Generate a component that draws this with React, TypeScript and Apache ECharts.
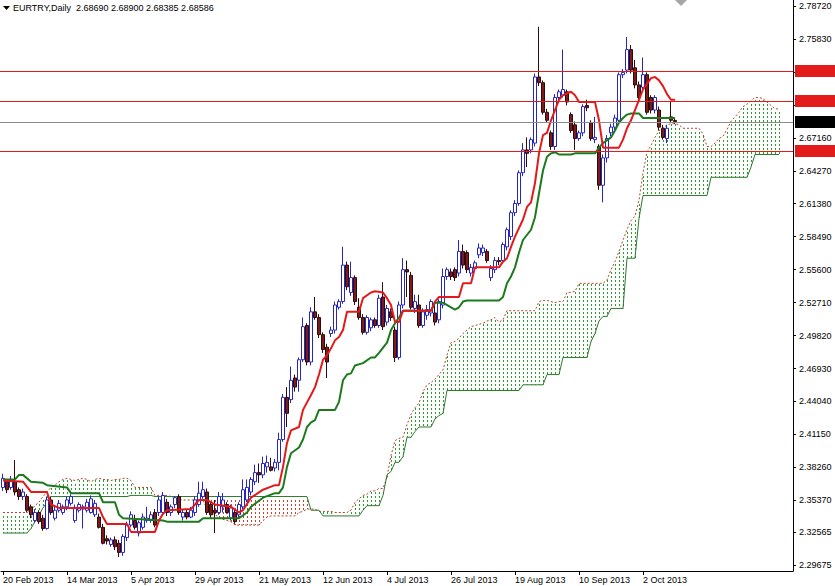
import React, { useEffect, useRef } from "react";
import * as echarts from "echarts";

const FONT = '"Liberation Sans", Arial, sans-serif';

// x-axis date labels, one every 16 trading days starting at bar 0
const dateTicks = ["20 Feb 2013", "14 Mar 2013", "5 Apr 2013", "29 Apr 2013", "21 May 2013", "12 Jun 2013", "4 Jul 2013", "26 Jul 2013", "19 Aug 2013", "10 Sep 2013", "2 Oct 2013"];
const BARS_PER_TICK = 16;
const TOTAL_SLOTS = 198; // bars incl. the 26-bar cloud projection + right margin

// price-scale ticks; the two under the 2.73000 / 2.70350 level boxes carry no visible label
const yTicks = [2.7872, 2.7583, 2.7294, 2.7005, 2.6716, 2.6427, 2.6138, 2.5849, 2.556, 2.5271, 2.4982, 2.4693, 2.4404, 2.4115, 2.3826, 2.3537, 2.32565, 2.29675];
const yLabels = [2.7872, 2.7583, 2.6716, 2.6427, 2.6138, 2.5849, 2.556, 2.5271, 2.4982, 2.4693, 2.4404, 2.4115, 2.3826, 2.3537, 2.32565, 2.29675];

// horizontal support / resistance levels drawn on the chart
const levelLines = [2.73, 2.7035, 2.66];

// [open, close, low, high]
const candles = [
  [2.365, 2.373, 2.362, 2.377], [2.370, 2.363, 2.360, 2.372], [2.365, 2.372, 2.363, 2.375], [2.370, 2.361, 2.358, 2.389],
  [2.363, 2.357, 2.354, 2.365], [2.357, 2.361, 2.354, 2.364], [2.357, 2.345, 2.343, 2.359], [2.348, 2.341, 2.338, 2.350],
  [2.336, 2.343, 2.334, 2.346], [2.343, 2.335, 2.333, 2.345], [2.338, 2.329, 2.327, 2.341], [2.329, 2.354, 2.328, 2.357],
  [2.354, 2.343, 2.341, 2.357], [2.338, 2.345, 2.336, 2.348], [2.345, 2.351, 2.343, 2.354], [2.343, 2.348, 2.341, 2.350],
  [2.348, 2.354, 2.345, 2.357], [2.351, 2.357, 2.349, 2.359], [2.336, 2.347, 2.334, 2.350], [2.345, 2.350, 2.343, 2.352],
  [2.346, 2.348, 2.329, 2.350], [2.345, 2.352, 2.343, 2.355], [2.343, 2.355, 2.342, 2.358], [2.341, 2.351, 2.339, 2.354],
  [2.339, 2.330, 2.329, 2.342], [2.330, 2.316, 2.315, 2.333], [2.320, 2.318, 2.315, 2.323], [2.315, 2.319, 2.313, 2.321],
  [2.319, 2.313, 2.310, 2.322], [2.316, 2.308, 2.304, 2.319], [2.308, 2.322, 2.305, 2.324], [2.321, 2.332, 2.318, 2.335],
  [2.332, 2.341, 2.330, 2.344], [2.336, 2.330, 2.328, 2.341], [2.325, 2.334, 2.322, 2.336], [2.330, 2.339, 2.328, 2.342],
  [2.336, 2.338, 2.334, 2.348], [2.336, 2.341, 2.334, 2.344], [2.343, 2.332, 2.330, 2.346], [2.343, 2.354, 2.340, 2.357],
  [2.343, 2.358, 2.342, 2.361], [2.352, 2.343, 2.340, 2.355], [2.343, 2.348, 2.340, 2.350], [2.350, 2.356, 2.347, 2.357],
  [2.357, 2.343, 2.341, 2.359], [2.339, 2.343, 2.336, 2.346], [2.343, 2.339, 2.337, 2.346], [2.339, 2.345, 2.338, 2.348],
  [2.343, 2.354, 2.340, 2.357], [2.350, 2.360, 2.348, 2.370], [2.357, 2.363, 2.355, 2.370], [2.361, 2.343, 2.341, 2.364],
  [2.350, 2.341, 2.338, 2.352], [2.345, 2.343, 2.325, 2.354], [2.343, 2.357, 2.341, 2.361], [2.348, 2.354, 2.343, 2.360],
  [2.350, 2.343, 2.342, 2.352], [2.338, 2.347, 2.336, 2.350], [2.343, 2.335, 2.333, 2.346], [2.341, 2.350, 2.338, 2.352],
  [2.348, 2.363, 2.346, 2.372], [2.354, 2.365, 2.352, 2.372], [2.361, 2.372, 2.358, 2.374], [2.370, 2.378, 2.367, 2.385],
  [2.378, 2.376, 2.369, 2.386], [2.376, 2.386, 2.373, 2.392], [2.383, 2.387, 2.378, 2.393], [2.383, 2.380, 2.379, 2.391],
  [2.382, 2.387, 2.379, 2.390], [2.387, 2.407, 2.380, 2.413], [2.407, 2.444, 2.405, 2.447], [2.444, 2.430, 2.418, 2.453],
  [2.442, 2.459, 2.439, 2.471], [2.461, 2.453, 2.449, 2.464], [2.459, 2.477, 2.449, 2.479], [2.477, 2.506, 2.475, 2.514],
  [2.507, 2.475, 2.472, 2.509], [2.475, 2.519, 2.472, 2.523], [2.519, 2.514, 2.512, 2.532], [2.514, 2.499, 2.496, 2.517],
  [2.499, 2.486, 2.483, 2.501], [2.488, 2.475, 2.461, 2.491], [2.500, 2.503, 2.497, 2.506], [2.503, 2.525, 2.500, 2.528],
  [2.523, 2.528, 2.521, 2.530], [2.528, 2.560, 2.526, 2.576], [2.560, 2.541, 2.538, 2.563], [2.536, 2.549, 2.533, 2.563],
  [2.549, 2.528, 2.525, 2.551], [2.523, 2.514, 2.512, 2.531], [2.514, 2.501, 2.499, 2.517], [2.501, 2.514, 2.499, 2.516],
  [2.505, 2.512, 2.502, 2.514], [2.512, 2.507, 2.505, 2.514], [2.507, 2.531, 2.505, 2.534], [2.532, 2.506, 2.503, 2.545],
  [2.510, 2.522, 2.507, 2.525], [2.519, 2.514, 2.511, 2.522], [2.503, 2.479, 2.475, 2.506], [2.479, 2.525, 2.477, 2.528],
  [2.525, 2.556, 2.522, 2.566], [2.556, 2.554, 2.532, 2.564], [2.551, 2.523, 2.521, 2.554], [2.522, 2.528, 2.518, 2.534],
  [2.525, 2.507, 2.505, 2.534], [2.507, 2.519, 2.505, 2.522], [2.516, 2.521, 2.512, 2.525], [2.518, 2.528, 2.515, 2.530],
  [2.518, 2.510, 2.507, 2.527], [2.512, 2.528, 2.509, 2.530], [2.525, 2.550, 2.522, 2.557], [2.550, 2.556, 2.547, 2.558],
  [2.554, 2.550, 2.547, 2.557], [2.556, 2.549, 2.546, 2.558], [2.553, 2.572, 2.550, 2.582], [2.572, 2.560, 2.557, 2.578],
  [2.571, 2.556, 2.553, 2.573], [2.553, 2.558, 2.550, 2.561], [2.557, 2.562, 2.555, 2.564], [2.569, 2.575, 2.566, 2.579],
  [2.571, 2.575, 2.568, 2.578], [2.572, 2.564, 2.562, 2.574], [2.549, 2.557, 2.546, 2.560], [2.556, 2.564, 2.553, 2.567],
  [2.564, 2.563, 2.560, 2.567], [2.564, 2.578, 2.562, 2.580], [2.576, 2.591, 2.573, 2.593], [2.585, 2.606, 2.582, 2.608],
  [2.606, 2.614, 2.603, 2.617], [2.614, 2.641, 2.612, 2.643], [2.641, 2.661, 2.638, 2.667], [2.661, 2.658, 2.646, 2.672],
  [2.661, 2.670, 2.658, 2.672], [2.667, 2.725, 2.664, 2.728], [2.725, 2.720, 2.717, 2.769], [2.720, 2.694, 2.692, 2.722],
  [2.694, 2.687, 2.685, 2.697], [2.676, 2.664, 2.661, 2.678], [2.664, 2.707, 2.661, 2.710], [2.707, 2.712, 2.705, 2.714],
  [2.709, 2.714, 2.707, 2.749], [2.712, 2.703, 2.700, 2.714], [2.692, 2.678, 2.676, 2.694], [2.683, 2.671, 2.661, 2.686],
  [2.671, 2.676, 2.669, 2.678], [2.676, 2.699, 2.673, 2.701], [2.700, 2.698, 2.695, 2.705], [2.685, 2.671, 2.669, 2.687],
  [2.670, 2.672, 2.667, 2.690], [2.664, 2.630, 2.626, 2.666], [2.630, 2.654, 2.615, 2.657], [2.654, 2.671, 2.650, 2.674],
  [2.676, 2.681, 2.673, 2.684], [2.681, 2.689, 2.678, 2.692], [2.687, 2.727, 2.685, 2.729], [2.727, 2.729, 2.724, 2.732],
  [2.731, 2.749, 2.728, 2.760], [2.749, 2.731, 2.728, 2.753], [2.733, 2.718, 2.715, 2.740], [2.718, 2.707, 2.704, 2.721],
  [2.716, 2.727, 2.714, 2.742], [2.727, 2.694, 2.692, 2.729], [2.707, 2.696, 2.693, 2.709], [2.696, 2.707, 2.693, 2.709],
  [2.696, 2.681, 2.678, 2.699], [2.680, 2.672, 2.670, 2.683], [2.671, 2.680, 2.667, 2.683], [2.690, 2.687, 2.685, 2.703],
  [2.6869, 2.68586, 2.68385, 2.689],
];

// Tenkan-sen (red) read at its turning points: [bar, price]
const tenkan = [
  [0, 2.371], [5, 2.370], [7, 2.361], [11, 2.361], [12, 2.350], [14, 2.347], [24, 2.347], [25, 2.339], [26, 2.333], [31, 2.333],
  [32, 2.326], [38, 2.326], [39, 2.336], [40, 2.342], [41, 2.345], [47, 2.346], [48, 2.350], [49, 2.354], [51, 2.354], [53, 2.350],
  [57, 2.348], [59, 2.343], [60, 2.345], [62, 2.356], [65, 2.363], [68, 2.367], [69, 2.367], [70, 2.383], [71, 2.404], [72, 2.415],
  [74, 2.418], [75, 2.433], [77, 2.446], [78, 2.453], [79, 2.464], [80, 2.477], [81, 2.481], [82, 2.487], [83, 2.494], [84, 2.497],
  [85, 2.503], [86, 2.519], [89, 2.519], [90, 2.531], [92, 2.536], [93, 2.537], [95, 2.536], [96, 2.531], [97, 2.525], [98, 2.510],
  [99, 2.510], [100, 2.520], [107, 2.520], [108, 2.528], [109, 2.532], [114, 2.532], [115, 2.544], [117, 2.544], [118, 2.558], [124, 2.558],
  [125, 2.563], [126, 2.566], [127, 2.576], [128, 2.585], [130, 2.600], [131, 2.611], [132, 2.615], [133, 2.632], [134, 2.658], [135, 2.674],
  [136, 2.676], [137, 2.687], [138, 2.696], [139, 2.705], [140, 2.709], [142, 2.712], [143, 2.709], [144, 2.703], [148, 2.703], [149, 2.687],
  [150, 2.663], [154, 2.663], [155, 2.670], [156, 2.680], [157, 2.687], [158, 2.696], [159, 2.705], [160, 2.714], [161, 2.719], [162, 2.724],
  [163, 2.725], [164, 2.722], [165, 2.717], [166, 2.710], [167, 2.705], [168, 2.705],
];

// Kijun-sen (green) read at its turning points: [bar, price]
const kijun = [
  [0, 2.372], [3, 2.372], [4, 2.376], [5, 2.376], [7, 2.370], [10, 2.369], [11, 2.367], [16, 2.365], [17, 2.360], [24, 2.360],
  [25, 2.352], [28, 2.352], [29, 2.341], [30, 2.338], [40, 2.336], [41, 2.335], [49, 2.335], [50, 2.338], [59, 2.338], [61, 2.343],
  [62, 2.348], [65, 2.356], [68, 2.360], [69, 2.360], [70, 2.365], [71, 2.383], [72, 2.395], [74, 2.400], [75, 2.407], [76, 2.418],
  [77, 2.422], [78, 2.424], [79, 2.433], [83, 2.433], [84, 2.440], [85, 2.459], [86, 2.464], [87, 2.465], [88, 2.472], [90, 2.474],
  [92, 2.479], [93, 2.479], [94, 2.483], [96, 2.492], [97, 2.503], [98, 2.509], [99, 2.514], [100, 2.520], [107, 2.520], [108, 2.527],
  [110, 2.527], [112, 2.523], [113, 2.521], [114, 2.523], [115, 2.528], [116, 2.529], [124, 2.529], [125, 2.532], [126, 2.544], [127, 2.550],
  [128, 2.558], [129, 2.571], [130, 2.582], [132, 2.591], [133, 2.602], [134, 2.623], [135, 2.643], [136, 2.655], [137, 2.658], [138, 2.659],
  [139, 2.657], [142, 2.657], [143, 2.658], [148, 2.658], [149, 2.663], [150, 2.667], [152, 2.672], [153, 2.678], [154, 2.685], [155, 2.689],
  [156, 2.692], [157, 2.693], [159, 2.693], [160, 2.689], [168, 2.689],
];

// Senkou span A, one value per bar (bars 0..194, incl. 26 projected bars)
const spanA = [
  2.343, 2.343, 2.343, 2.343, 2.343, 2.343, 2.343, 2.345, 2.349, 2.352,
  2.357, 2.361, 2.365, 2.367, 2.370, 2.372, 2.373, 2.372, 2.371, 2.372,
  2.373, 2.372, 2.370, 2.372, 2.373, 2.372, 2.372, 2.371, 2.372, 2.372,
  2.373, 2.373, 2.371, 2.365, 2.365, 2.365, 2.365, 2.365, 2.358, 2.358,
  2.358, 2.358, 2.357, 2.354, 2.354, 2.354, 2.354, 2.354, 2.354, 2.354,
  2.354, 2.346, 2.343, 2.341, 2.339, 2.337, 2.336, 2.335, 2.332, 2.332,
  2.332, 2.332, 2.332, 2.332, 2.332, 2.336, 2.339, 2.340, 2.340, 2.340,
  2.340, 2.340, 2.340, 2.340, 2.343, 2.344, 2.346, 2.346, 2.346, 2.344,
  2.344, 2.344, 2.344, 2.343, 2.343, 2.343, 2.343, 2.345, 2.352, 2.355,
  2.358, 2.359, 2.362, 2.362, 2.364, 2.364, 2.374, 2.393, 2.406, 2.408,
  2.409, 2.420, 2.429, 2.435, 2.439, 2.449, 2.455, 2.457, 2.460, 2.464,
  2.468, 2.481, 2.492, 2.493, 2.496, 2.500, 2.503, 2.506, 2.507, 2.508,
  2.509, 2.511, 2.512, 2.514, 2.510, 2.512, 2.520, 2.520, 2.520, 2.520,
  2.520, 2.520, 2.520, 2.520, 2.528, 2.529, 2.529, 2.528, 2.527, 2.528,
  2.528, 2.536, 2.536, 2.537, 2.544, 2.544, 2.544, 2.544, 2.544, 2.544,
  2.544, 2.547, 2.556, 2.563, 2.572, 2.582, 2.591, 2.599, 2.603, 2.617,
  2.641, 2.659, 2.665, 2.672, 2.678, 2.680, 2.683, 2.684, 2.684, 2.683,
  2.680, 2.680, 2.680, 2.680, 2.680, 2.675, 2.664, 2.664, 2.667, 2.671,
  2.673, 2.679, 2.686, 2.690, 2.694, 2.699, 2.701, 2.704, 2.707, 2.707,
  2.706, 2.703, 2.700, 2.697, 2.697,
];

// Senkou span B, one value per bar (bars 0..194)
const spanB = [
  2.325, 2.325, 2.325, 2.325, 2.325, 2.325, 2.325, 2.329, 2.335, 2.341,
  2.347, 2.352, 2.357, 2.357, 2.357, 2.357, 2.357, 2.357, 2.357, 2.357,
  2.357, 2.357, 2.357, 2.357, 2.357, 2.357, 2.357, 2.357, 2.357, 2.357,
  2.357, 2.357, 2.358, 2.358, 2.358, 2.358, 2.358, 2.358, 2.357, 2.357,
  2.357, 2.357, 2.357, 2.357, 2.357, 2.357, 2.357, 2.357, 2.357, 2.357,
  2.357, 2.357, 2.357, 2.357, 2.357, 2.357, 2.357, 2.357, 2.357, 2.357,
  2.357, 2.357, 2.357, 2.357, 2.357, 2.357, 2.357, 2.357, 2.357, 2.357,
  2.357, 2.357, 2.357, 2.357, 2.357, 2.357, 2.357, 2.345, 2.345, 2.345,
  2.340, 2.340, 2.340, 2.340, 2.340, 2.340, 2.340, 2.340, 2.340, 2.340,
  2.345, 2.349, 2.349, 2.349, 2.349, 2.358, 2.376, 2.379, 2.387, 2.387,
  2.392, 2.409, 2.409, 2.414, 2.418, 2.418, 2.418, 2.418, 2.425, 2.428,
  2.430, 2.450, 2.450, 2.450, 2.450, 2.450, 2.450, 2.450, 2.450, 2.450,
  2.450, 2.450, 2.450, 2.450, 2.450, 2.450, 2.450, 2.450, 2.450, 2.450,
  2.455, 2.455, 2.455, 2.455, 2.455, 2.455, 2.464, 2.464, 2.464, 2.464,
  2.479, 2.479, 2.479, 2.479, 2.479, 2.479, 2.479, 2.493, 2.500, 2.511,
  2.515, 2.515, 2.522, 2.522, 2.522, 2.522, 2.566, 2.566, 2.566, 2.601,
  2.621, 2.621, 2.621, 2.621, 2.621, 2.621, 2.621, 2.621, 2.621, 2.621,
  2.621, 2.621, 2.621, 2.621, 2.621, 2.621, 2.621, 2.637, 2.637, 2.637,
  2.637, 2.637, 2.637, 2.637, 2.637, 2.637, 2.637, 2.646, 2.657, 2.657,
  2.657, 2.657, 2.657, 2.657, 2.657,
];

const COLORS = {
  up: "#2626c4",
  downFill: "#7a1c1c",
  downBorder: "#2e0a0a",
  tenkan: "#e21a1a",
  kijun: "#1c7a1c",
  kumoUp: "#2a9e2a",
  kumoDown: "#c8402a",
  spanA: "#b4442e",
  spanB: "#2b7a2b",
  level: "#e31b1b",
  price: "#8c8c8c",
};

const GRID = { left: -1, right: 42, top: 0, bottom: 15 };
const CHART_W = 835;

// Kumo drawn as MT4 does: a dotted vertical histogram between span A and span B at every bar
function kumoSeries(name: string, color: string, rising: boolean) {
  return {
    name,
    type: "custom",
    silent: true,
    clip: true,
    z: 1,
    itemStyle: { color },
    data: spanA.map((a, i) => [i, a, spanB[i]]).filter((d) => (rising ? d[1] >= d[2] : d[1] < d[2])),
    encode: { x: 0, y: [1, 2] },
    renderItem: (_params: any, api: any) => {
      const i = api.value(0);
      const pa = api.coord([i, api.value(1)]);
      const pb = api.coord([i, api.value(2)]);
      const x = Math.round(pa[0]);
      const top = Math.min(pa[1], pb[1]);
      const bottom = Math.max(pa[1], pb[1]);
      const children: any[] = [];
      for (let y = Math.ceil(top / 4) * 4; y < bottom; y += 4) {
        children.push({
          type: "rect",
          shape: { x, y, width: 1, height: Math.min(2, bottom - y) },
          style: { fill: color },
        });
      }
      return { type: "group", children };
    },
  };
}

export default function App() {
  const ref = useRef<HTMLDivElement>(null);

  useEffect(() => {
    if (!ref.current) return;
    const chart = echarts.init(ref.current, null, { renderer: "svg" });

    const last = candles[candles.length - 1];
    const header = [last[0], last[3], last[2], last[1]];
    const lastClose = last[1];
    const categories = Array.from({ length: TOTAL_SLOTS }, (_, i) => String(i));
    const showTick = (i: number) => i % BARS_PER_TICK === 0 && i / BARS_PER_TICK < dateTicks.length;

    const baseGraphic: any[] = [
      { type: "polygon", shape: { points: [[3, 6], [10, 6], [6.5, 10]] }, style: { fill: "#000" }, silent: true },
      { type: "polygon", shape: { points: [[675, 0], [687, 0], [681, 6]] }, style: { fill: "#a6a6a6" }, silent: true },
    ];

    const option: any = {
      animation: false,
      backgroundColor: "#ffffff",
      title: {
        text: "EURTRY,Daily  " + header.map((v) => v.toFixed(5)).join(" "),
        left: 13,
        top: 3,
        padding: 0,
        textStyle: { fontSize: 9, fontWeight: "normal", fontFamily: FONT, color: "#000" },
      },
      graphic: baseGraphic,
      grid: { ...GRID, containLabel: false },
      xAxis: {
        type: "category",
        data: categories,
        boundaryGap: true,
        axisLine: { show: true, lineStyle: { color: "#000", width: 1 } },
        axisTick: { show: true, alignWithLabel: true, interval: (i: number) => showTick(i), length: 4, lineStyle: { color: "#000" } },
        axisLabel: {
          interval: (i: number) => showTick(i),
          formatter: (_v: string, i: number) => (showTick(i) ? dateTicks[i / BARS_PER_TICK] : ""),
          align: "left",
          margin: 4,
          fontSize: 9,
          fontFamily: FONT,
          color: "#000",
        },
        splitLine: { show: false },
      },
      yAxis: {
        type: "value",
        position: "right",
        min: 2.2917,
        max: 2.7925,
        axisLine: { show: true, lineStyle: { color: "#000", width: 1 } },
        axisTick: { show: true, length: 3, customValues: yTicks, lineStyle: { color: "#000" } },
        axisLabel: {
          customValues: yLabels,
          formatter: (v: number) => v.toFixed(5),
          margin: 6,
          fontSize: 9,
          fontFamily: FONT,
          color: "#000",
        },
        splitLine: { show: false },
      },
      series: [
        kumoSeries("Up Kumo", COLORS.kumoUp, true),
        kumoSeries("Down Kumo", COLORS.kumoDown, false),
        {
          name: "Senkou Span A",
          type: "line",
          data: spanA,
          symbol: "none",
          silent: true,
          z: 2,
          lineStyle: { color: COLORS.spanA, width: 1, type: [2, 2] },
        },
        {
          name: "Senkou Span B",
          type: "line",
          data: spanB,
          symbol: "none",
          silent: true,
          z: 2,
          lineStyle: { color: COLORS.spanB, width: 1 },
        },
        {
          name: "EURTRY",
          type: "candlestick",
          data: candles,
          barWidth: 3,
          z: 3,
          itemStyle: {
            color: "#ffffff",
            color0: COLORS.downFill,
            borderColor: COLORS.up,
            borderColor0: COLORS.downBorder,
            borderWidth: 1,
          },
        },
        {
          name: "Kijun-sen",
          type: "line",
          data: kijun,
          symbol: "none",
          silent: true,
          z: 4,
          lineStyle: { color: COLORS.kijun, width: 2 },
        },
        {
          name: "Tenkan-sen",
          type: "line",
          data: tenkan,
          symbol: "none",
          silent: true,
          z: 5,
          lineStyle: { color: COLORS.tenkan, width: 2 },
        },
      ],
    };

    chart.setOption(option);

    // Horizontal levels + current bid, placed through the y-axis scale of the laid-out chart
    const plotLeft = GRID.left;
    const plotRight = CHART_W - GRID.right;
    const levels = levelLines.map((v) => ({ v, bid: false })).concat([{ v: lastClose, bid: true }]);
    const levelGraphic: any[] = [];
    levels.forEach(({ v, bid }) => {
      const py = chart.convertToPixel({ yAxisIndex: 0 }, v) as number;
      const y = Math.round(py);
      levelGraphic.push({
        type: "rect",
        silent: true,
        z: 100,
        shape: { x: plotLeft, y, width: plotRight - plotLeft, height: 1 },
        style: { fill: bid ? COLORS.price : COLORS.level },
      });
      levelGraphic.push({
        type: "rect",
        silent: true,
        z: 101,
        shape: { x: plotRight + 2, y: y - 6, width: 40, height: 12 },
        style: { fill: bid ? "#000000" : COLORS.level },
        textContent: {
          type: "text",
          style: { text: v.toFixed(5), fill: "#ffffff", fontSize: 9, fontFamily: FONT },
        },
        textConfig: { position: "inside" },
      });
    });
    chart.setOption({ graphic: baseGraphic.concat(levelGraphic) });

    return () => chart.dispose();
  }, []);

  return (
    <div
      ref={ref}
      style={{ position: "absolute", left: 0, top: 0, width: 835, height: 586, background: "#ffffff" }}
    />
  );
}
